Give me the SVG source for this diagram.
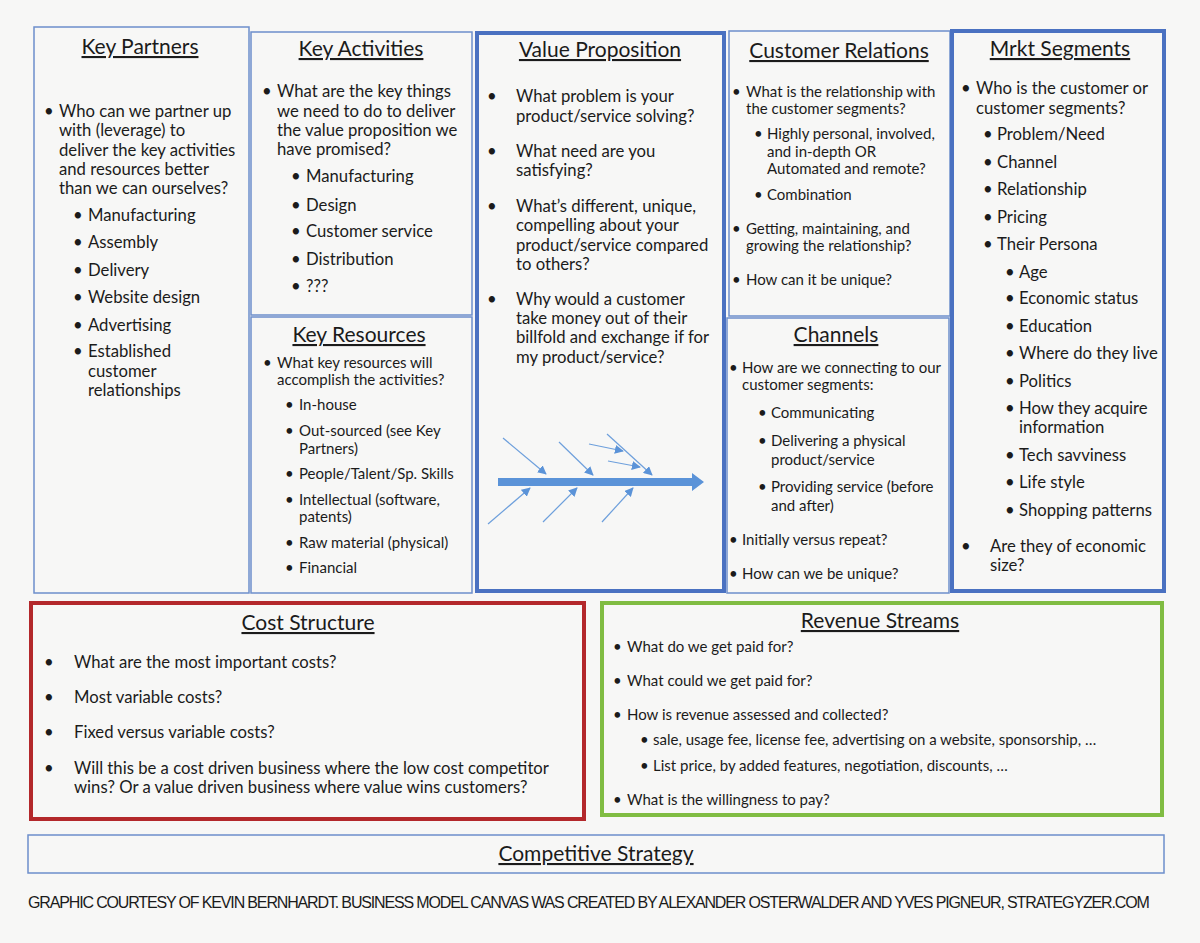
<svg xmlns="http://www.w3.org/2000/svg" width="1200" height="943" viewBox="0 0 1200 943">
<style>
text{font-family:Lato,"Liberation Sans",sans-serif;fill:#1b1b1b}
.title{font-size:21px;text-anchor:middle;text-decoration:underline}
.l{font-size:16.7px}
.s{font-size:15px}
.thin{fill:#f7f7f6;stroke:#6d8fcb;stroke-width:1.5}
.thickb{fill:#f7f7f6;stroke:#4a71c1;stroke-width:4}
.fb{stroke:#6d9fdc;stroke-width:1.2;fill:none}
.foot{font-family:"Liberation Sans",sans-serif;font-size:16px;letter-spacing:-1.15px}
</style>
<defs>
<marker id="ah" viewBox="0 0 10 10" refX="9" refY="5" markerWidth="9" markerHeight="9" markerUnits="userSpaceOnUse" orient="auto">
<path d="M0,0 L10,5 L0,10 z" fill="#5b93d8"/>
</marker>
</defs>
<rect width="1200" height="943" fill="#f7f7f6"/>

<g id="key-partners">
<rect class="thin" x="34" y="27" width="215" height="566"/>
<text class="title" x="140" y="54">Key Partners</text>
<g class="l">
<text x="44" y="117">•</text>
<text x="59" y="117">Who can we partner up</text>
<text x="59" y="136">with (leverage) to</text>
<text x="59" y="156">deliver the key activities</text>
<text x="59" y="175">and resources better</text>
<text x="59" y="194">than we can ourselves?</text>
<text x="73" y="221">•</text><text x="88" y="221">Manufacturing</text>
<text x="73" y="248">•</text><text x="88" y="248">Assembly</text>
<text x="73" y="276">•</text><text x="88" y="276">Delivery</text>
<text x="73" y="303">•</text><text x="88" y="303">Website design</text>
<text x="73" y="331">•</text><text x="88" y="331">Advertising</text>
<text x="73" y="357">•</text><text x="88" y="357">Established</text>
<text x="88" y="377">customer</text>
<text x="88" y="396">relationships</text>
</g>
</g>

<g id="key-activities">
<rect class="thin" x="251" y="32" width="221" height="283"/>
<text class="title" x="361" y="56">Key Activities</text>
<g class="l">
<text x="262" y="97">•</text>
<text x="277" y="97">What are the key things</text>
<text x="277" y="117">we need to do to deliver</text>
<text x="277" y="136">the value proposition we</text>
<text x="277" y="155">have promised?</text>
<text x="291" y="182">•</text><text x="306" y="182">Manufacturing</text>
<text x="291" y="211">•</text><text x="306" y="211">Design</text>
<text x="291" y="237">•</text><text x="306" y="237">Customer service</text>
<text x="291" y="265">•</text><text x="306" y="265">Distribution</text>
<text x="291" y="292">•</text><text x="306" y="292">???</text>
</g>
</g>

<g id="key-resources">
<rect class="thin" x="251" y="317" width="221" height="276"/>
<text class="title" x="359" y="342">Key Resources</text>
<g class="s">
<text x="263" y="368">•</text>
<text x="277" y="368">What key resources will</text>
<text x="277" y="385">accomplish the activities?</text>
<text x="285" y="410">•</text><text x="299" y="410">In-house</text>
<text x="285" y="436">•</text><text x="299" y="436">Out-sourced (see Key</text>
<text x="299" y="454">Partners)</text>
<text x="285" y="479">•</text><text x="299" y="479">People/Talent/Sp. Skills</text>
<text x="285" y="505">•</text><text x="299" y="505">Intellectual (software,</text>
<text x="299" y="522">patents)</text>
<text x="285" y="548">•</text><text x="299" y="548">Raw material (physical)</text>
<text x="285" y="573">•</text><text x="299" y="573">Financial</text>
</g>
</g>

<g id="value-proposition">
<rect class="thickb" x="477" y="33" width="247" height="558"/>
<text class="title" x="600" y="57">Value Proposition</text>
<g class="l">
<text x="487" y="102">•</text>
<text x="516" y="102">What problem is your</text>
<text x="516" y="122">product/service solving?</text>
<text x="487" y="157">•</text>
<text x="516" y="157">What need are you</text>
<text x="516" y="176">satisfying?</text>
<text x="487" y="212">•</text>
<text x="516" y="212">What’s different, unique,</text>
<text x="516" y="231">compelling about your</text>
<text x="516" y="251">product/service compared</text>
<text x="516" y="270">to others?</text>
<text x="487" y="305">•</text>
<text x="516" y="305">Why would a customer</text>
<text x="516" y="324">take money out of their</text>
<text x="516" y="343">billfold and exchange if for</text>
<text x="516" y="363">my product/service?</text>
</g>
</g>

<g id="customer-relations">
<rect class="thin" x="729" y="31" width="221" height="285"/>
<text class="title" x="839" y="58">Customer Relations</text>
<g class="s">
<text x="732" y="97">•</text>
<text x="746" y="97">What is the relationship with</text>
<text x="746" y="114">the customer segments?</text>
<text x="754" y="139">•</text><text x="767" y="139">Highly personal, involved,</text>
<text x="767" y="157">and in-depth OR</text>
<text x="767" y="174">Automated  and remote?</text>
<text x="754" y="200">•</text><text x="767" y="200">Combination</text>
<text x="732" y="234">•</text>
<text x="746" y="234">Getting,  maintaining, and</text>
<text x="746" y="251">growing the relationship?</text>
<text x="732" y="285">•</text>
<text x="746" y="285">How can it be unique?</text>
</g>
</g>

<g id="channels">
<rect class="thin" x="727" y="318" width="222" height="275"/>
<text class="title" x="836" y="342">Channels</text>
<g class="s">
<text x="729" y="373">•</text>
<text x="742" y="373">How are we  connecting to our</text>
<text x="742" y="390">customer segments:</text>
<text x="758" y="418">•</text><text x="771" y="418">Communicating</text>
<text x="758" y="446">•</text><text x="771" y="446">Delivering a physical</text>
<text x="771" y="465">product/service</text>
<text x="758" y="492">•</text><text x="771" y="492">Providing service (before</text>
<text x="771" y="511">and after)</text>
<text x="729" y="545">•</text>
<text x="742" y="545">Initially versus repeat?</text>
<text x="729" y="579">•</text>
<text x="742" y="579">How can we  be unique?</text>
</g>
</g>

<g id="mrkt-segments">
<rect class="thickb" x="952" y="31" width="212" height="560"/>
<text class="title" x="1060" y="56">Mrkt Segments</text>
<g class="l">
<text x="961" y="94">•</text>
<text x="976" y="94">Who is the customer or</text>
<text x="976" y="114">customer segments?</text>
<text x="983" y="140">•</text><text x="997" y="140">Problem/Need</text>
<text x="983" y="168">•</text><text x="997" y="168">Channel</text>
<text x="983" y="195">•</text><text x="997" y="195">Relationship</text>
<text x="983" y="223">•</text><text x="997" y="223">Pricing</text>
<text x="983" y="250">•</text><text x="997" y="250">Their Persona</text>
<text x="1005" y="278">•</text><text x="1019" y="278">Age</text>
<text x="1005" y="304">•</text><text x="1019" y="304">Economic status</text>
<text x="1005" y="332">•</text><text x="1019" y="332">Education</text>
<text x="1005" y="359">•</text><text x="1019" y="359">Where do they live</text>
<text x="1005" y="387">•</text><text x="1019" y="387">Politics</text>
<text x="1005" y="414">•</text><text x="1019" y="414">How they acquire</text>
<text x="1019" y="433">information</text>
<text x="1005" y="461">•</text><text x="1019" y="461">Tech savviness</text>
<text x="1005" y="488">•</text><text x="1019" y="488">Life style</text>
<text x="1005" y="516">•</text><text x="1019" y="516">Shopping patterns</text>
<text x="961" y="552">•</text>
<text x="990" y="552">Are they of economic</text>
<text x="990" y="571">size?</text>
</g>
</g>

<g id="cost-structure">
<rect x="31" y="603" width="553" height="216" fill="#f7f7f6" stroke="#b3282b" stroke-width="4"/>
<text class="title" x="308" y="630">Cost Structure</text>
<g class="l">
<text x="44" y="668">•</text><text x="74" y="668">What are the most important costs?</text>
<text x="44" y="703">•</text><text x="74" y="703">Most variable costs?</text>
<text x="44" y="738">•</text><text x="74" y="738">Fixed versus variable costs?</text>
<text x="44" y="774">•</text><text x="74" y="774">Will this be a cost driven business where the low cost competitor</text>
<text x="74" y="793">wins?  Or a value driven business where value wins customers?</text>
</g>
</g>

<g id="revenue-streams">
<rect x="602" y="603" width="560" height="212" fill="#f7f7f6" stroke="#80bc42" stroke-width="4"/>
<text class="title" x="880" y="628">Revenue Streams</text>
<g class="s">
<text x="613" y="652">•</text><text x="627" y="652">What do we get  paid for?</text>
<text x="613" y="686">•</text><text x="627" y="686">What could we get  paid for?</text>
<text x="613" y="720">•</text><text x="627" y="720">How is revenue  assessed and collected?</text>
<text x="640" y="745">•</text><text x="653" y="745">sale, usage fee,  license fee, advertising on a website,  sponsorship, …</text>
<text x="640" y="771">•</text><text x="653" y="771">List price, by added features, negotiation, discounts, …</text>
<text x="613" y="805">•</text><text x="627" y="805">What is the willingness to pay?</text>
</g>
</g>

<g id="competitive-strategy">
<rect class="thin" x="28" y="835" width="1136" height="38"/>
<text class="title" x="596" y="861">Competitive Strategy</text>
</g>

<g id="connectors">
<path d="M498,478 H692 V473 L704,482 L692,491 V486 H498 Z" fill="#5b93d8"/>
<line class="fb" x1="503" y1="438" x2="546" y2="474" marker-end="url(#ah)"/>
<line class="fb" x1="559" y1="442" x2="593" y2="475" marker-end="url(#ah)"/>
<line class="fb" x1="607" y1="434" x2="652" y2="475" marker-end="url(#ah)"/>
<line class="fb" x1="589" y1="444" x2="623" y2="451" marker-end="url(#ah)"/>
<line class="fb" x1="608" y1="461" x2="640" y2="467" marker-end="url(#ah)"/>
<line class="fb" x1="488" y1="524" x2="530" y2="488" marker-end="url(#ah)"/>
<line class="fb" x1="543" y1="522" x2="577" y2="488" marker-end="url(#ah)"/>
<line class="fb" x1="602" y1="522" x2="633" y2="488" marker-end="url(#ah)"/>
</g>

<text class="foot" x="28" y="908">GRAPHIC COURTESY OF KEVIN BERNHARDT. BUSINESS MODEL CANVAS WAS CREATED BY ALEXANDER OSTERWALDER AND YVES PIGNEUR, STRATEGYZER.COM</text>
</svg>
